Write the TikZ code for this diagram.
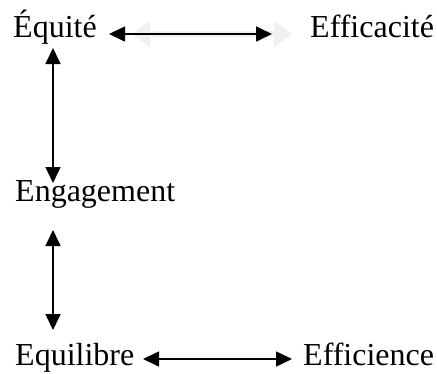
\documentclass[tikz,border=0pt]{standalone}
\usepackage{fontspec}
\setmainfont{Liberation Serif}
\usetikzlibrary{arrows.meta}
\begin{document}
\begin{tikzpicture}[x=1pt,y=-1pt,
  word/.style={anchor=base west,inner sep=0pt,font=\fontsize{32}{38}\selectfont},
  link/.style={line width=1.6pt,{Triangle[length=16pt,width=15pt]}-{Triangle[length=16pt,width=15pt]}},
  ghost/.style={draw=black!6,line width=6pt,{Triangle[length=18pt,width=25pt]}-{Triangle[length=18pt,width=25pt]}}]
\useasboundingbox (0,0) rectangle (437,373);
% the five terms
\node[word] (equite) at (13,37) {Équité};
\node[word] (efficacite) at (310,37) {Efficacité};
\node[word] (engagement) at (15,201) {Engagement};
\node[word] (equilibre) at (15,365) {Equilibre};
\node[word] (efficience) at (303,365) {Efficience};
% arrow end points
\coordinate (g1) at (132,34);
\coordinate (g2) at (292,34);
\coordinate (t1) at (109,34);
\coordinate (t2) at (272,34);
\coordinate (v1) at (53,48);
\coordinate (v2) at (53,183);
\coordinate (v3) at (53,230);
\coordinate (v4) at (53,330);
\coordinate (b1) at (143,359);
\coordinate (b2) at (292,359);
% faint shadow behind the top link
\draw[ghost] (g1) -- (g2);
\draw[link] (t1) -- (t2);
\draw[link] (v1) -- (v2);
\draw[link] (v3) -- (v4);
\draw[link] (b1) -- (b2);
\end{tikzpicture}
\end{document}
